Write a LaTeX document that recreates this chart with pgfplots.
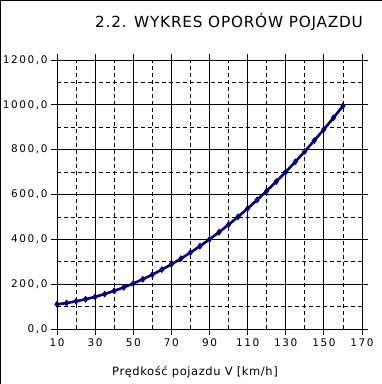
\documentclass[border=0pt]{standalone}
\usepackage{fontspec}
\setmainfont{DejaVu Sans}
\newfontfamily\titlefont[LetterSpace=5]{DejaVu Sans}
\newfontfamily\tickfont[LetterSpace=15]{DejaVu Sans}
\newfontfamily\labelfont[LetterSpace=5]{DejaVu Sans}
\usepackage{pgfplots}
\pgfplotsset{compat=1.18}
\definecolor{navyline}{RGB}{0,0,128}
\begin{document}
\begin{tikzpicture}
\useasboundingbox (-57pt,-55pt) rectangle (325pt,329pt);
\draw[black, line width=1pt] (-56.5pt,-55pt) -- (-56.5pt,328.5pt) -- (325pt,328.5pt);
\begin{axis}[
  at={(0pt,0pt)}, anchor=south west,
  scale only axis, width=305pt, height=269pt,
  xmin=10, xmax=170, ymin=0, ymax=1200,
  xtick={10,30,...,170}, minor xtick={20,40,...,160},
  ytick={0,200,...,1200}, minor ytick={100,300,...,1100},
  grid=both,
  major grid style={black, line width=0.8pt},
  minor grid style={black, line width=0.8pt, dash pattern=on 4pt off 3pt},
  axis line style={black, line width=0.8pt},
  tick style={black, line width=0.8pt},
  tick align=outside,
  major tick length=6pt,
  minor tick length=0pt,
  tick label style={font=\tickfont\fontsize{10.5}{12}\selectfont},
  /pgf/number format/assume math mode=true,
  yticklabel style={/pgf/number format/.cd, fixed, fixed zerofill, precision=1, use comma, 1000 sep={}},
  xticklabel style={/pgf/number format/.cd, 1000 sep={}},
  clip=false,
]
\addplot[navyline, line width=2.6pt, mark=diamond*, mark size=1.4pt, mark options={navyline}] coordinates {
(10,110.0) (15,115.9) (20,123.5) (25,132.7) (30,143.5) (35,155.9) (40,170.0) (45,185.7)
(50,203.0) (55,221.9) (60,242.5) (65,264.7) (70,288.5) (75,313.9) (80,341.0) (85,369.7)
(90,400.0) (95,431.9) (100,465.5) (105,500.7) (110,537.5) (115,575.9) (120,616.0) (125,657.7)
(130,701.0) (135,745.9) (140,792.5) (145,840.7) (150,890.5) (155,941.9) (160,995.0)
};
\end{axis}
\node[anchor=base east, inner sep=0pt, font=\titlefont\fontsize{15.3}{18}\selectfont] at (306pt,301.7pt) {2.2. WYKRES OPORÓW POJAZDU};
\node[anchor=base west, inner sep=0pt, font=\labelfont\fontsize{11.5}{13}\selectfont] at (55pt,-46.7pt) {Prędkość pojazdu V [km/h]};
\end{tikzpicture}
\end{document}
